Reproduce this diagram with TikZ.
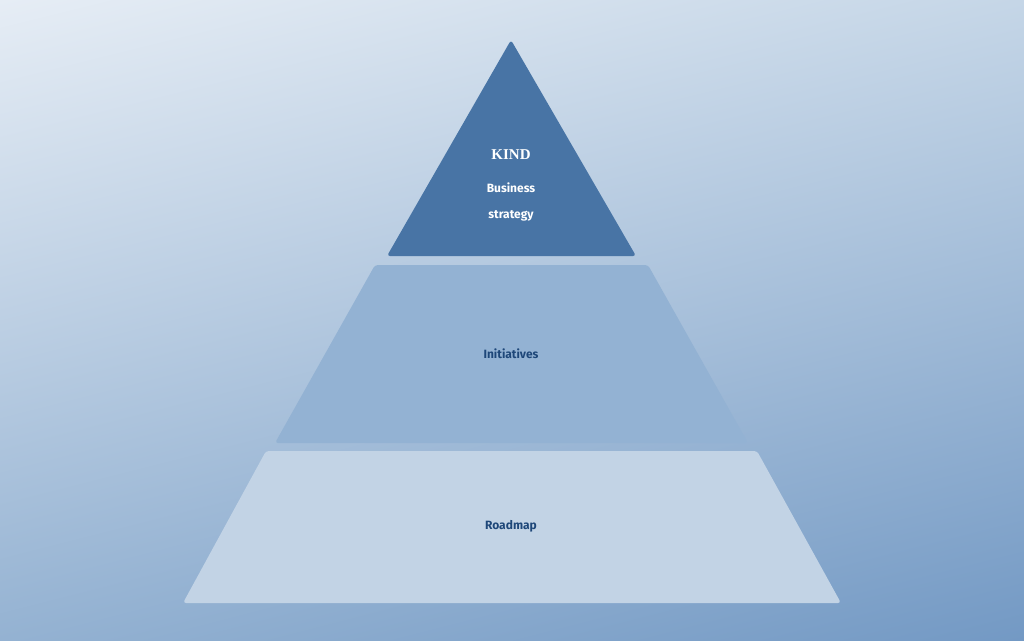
\documentclass[tikz,border=0pt]{standalone}
\usepackage{fontspec}
\usetikzlibrary{shadings}
\setmainfont{Fira Sans}
\newfontfamily\kindfont{Liberation Serif}
\begin{document}
\begin{tikzpicture}[x=1pt,y=-1pt,
  layer/.style={rounded corners=3pt},
  lab/.style={font=\fontsize{12}{14}\selectfont\bfseries, text=white},
  darklab/.style={font=\fontsize{12}{14}\selectfont\bfseries, text=labblue}]
\definecolor{bgtl}{HTML}{E6EDF5}
\definecolor{bgbr}{HTML}{7399C4}
\definecolor{bgtr}{HTML}{C5D6E7}
\definecolor{bgbl}{HTML}{94B2D2}
\definecolor{topc}{HTML}{4874A5}
\definecolor{midc}{HTML}{93B2D3}
\definecolor{botc}{HTML}{C2D3E5}
\definecolor{labblue}{HTML}{1E4779}
\useasboundingbox (0,0) rectangle (1024,640);
\shade[upper left=bgtl, upper right=bgtr, lower left=bgbl, lower right=bgbr] (0,0) rectangle (1024,640);
\fill[topc, layer] (511,40) -- (636,256) -- (387,256) -- cycle;
\fill[midc, layer] (375,265) -- (648,265) -- (748,443) -- (275,443) -- cycle;
\fill[botc, layer] (266,451) -- (757,451) -- (841,603) -- (183,603) -- cycle;
\node[text=white, font=\kindfont\fontsize{15}{17}\selectfont\bfseries] (kind) at (511,155) {KIND};
\node[lab] (bus) at (511,188) {Business};
\node[lab] (str) at (511,216) {strategy};
\node[darklab] (ini) at (511,354) {Initiatives};
\node[darklab] (road) at (511,526) {Roadmap};
\end{tikzpicture}
\end{document}
